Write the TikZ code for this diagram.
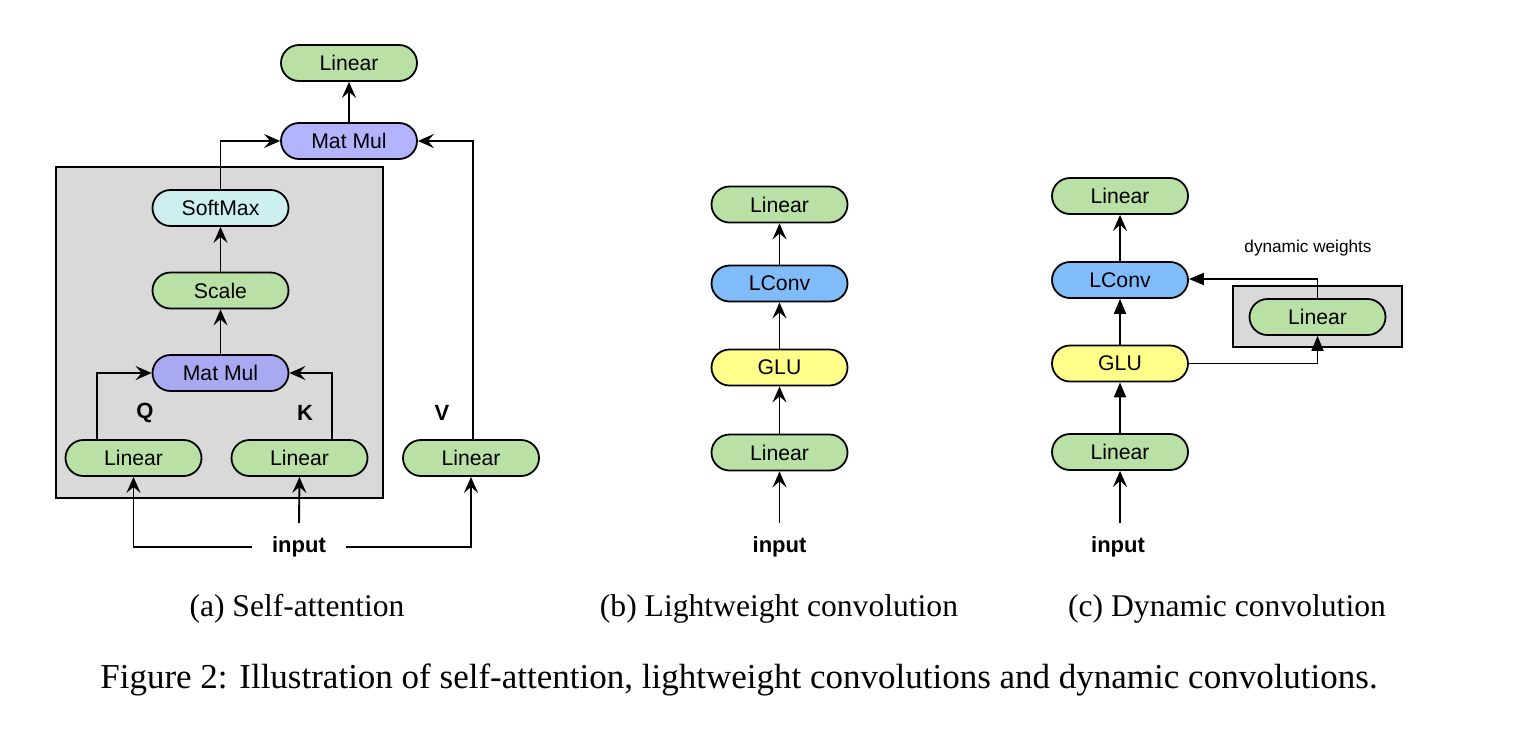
\documentclass[tikz,border=0pt]{standalone}
\usepackage{fontspec}
\setmainfont{Liberation Serif}
\setsansfont{Liberation Sans}
\usetikzlibrary{arrows.meta,calc}
\definecolor{cgreen}{HTML}{B9E0A5}
\definecolor{cpurple}{HTML}{B3B3FF}
\definecolor{cpurpleb}{HTML}{A9A9F2}
\definecolor{ccyan}{HTML}{CDEFEF}
\definecolor{cblue}{HTML}{80BCFA}
\definecolor{cyellow}{HTML}{FFFF8A}
\definecolor{cgray}{HTML}{D9D9D9}
\tikzset{
  blk/.style={draw=black, line width=0.9pt, rounded corners=9pt, minimum width=68pt, minimum height=18pt, inner sep=0pt, font=\sffamily\fontsize{10.6}{12}\selectfont},
  grn/.style={blk, fill=cgreen},
  lbl/.style={font=\sffamily\bfseries\fontsize{11}{13}\selectfont, inner sep=0pt},
  inlbl/.style={font=\sffamily\bfseries\fontsize{11}{13}\selectfont, inner ysep=0pt, inner xsep=10pt},
  arrS/.style={line width=0.95pt, -{Stealth[length=8pt, width=7pt, inset=3pt]}},
  arrT/.style={line width=0.95pt, -{Triangle[length=7.5pt, width=6pt]}},
  grayb/.style={draw=black, line width=0.9pt, fill=cgray},
  capt/.style={font=\fontsize{15.8}{18}\selectfont, inner sep=0pt},
  figcapt/.style={font=\fontsize{17.5}{20}\selectfont, inner sep=0pt}
}
\begin{document}
\begin{tikzpicture}[x=0.5pt,y=-0.5pt]
\useasboundingbox (0,0) rectangle (1518,740);
% ---------- (a) self-attention ----------
\node[grayb, minimum width=163.5pt, minimum height=165.5pt, inner sep=0pt] (boxA) at (219.5,332.5) {};
\node[grn] (linTop) at (349,63) {Linear};
\node[blk, fill=cpurple] (mm2) at (349,141) {Mat Mul};
\node[blk, fill=ccyan] (soft) at (220.5,208) {SoftMax};
\node[grn] (scale) at (220.5,290.5) {Scale};
\node[blk, fill=cpurpleb] (mm1) at (220.5,373) {Mat Mul};
\node[grn] (qlin) at (133.5,458) {Linear};
\node[grn] (klin) at (299.5,458) {Linear};
\node[grn] (vlin) at (471,458) {Linear};
\node[lbl] (qlab) at (145,413) {Q};
\node[lbl] (klab) at (305,413) {K};
\node[lbl] (vlab) at (442,413) {V};
\node[inlbl] (inA) at (299,547) {input};
\coordinate (inAk) at (299,523);
\draw[arrS] (inA.west) -| (qlin.south);
\draw[arrS] (inA.east) -| (vlin.south);
\draw[arrS] (inAk) -- (klin.south);
\draw[arrS] ([xshift=-18.25pt]qlin.north) |- (mm1.west);
\draw[arrS] ([xshift=16.25pt]klin.north) |- (mm1.east);
\draw[arrS] (mm1) -- (scale);
\draw[arrS] (scale) -- (soft);
\draw[arrS] (soft.north) |- (mm2.west);
\draw[arrS] ([xshift=1pt]vlin.north) |- (mm2.east);
\draw[arrS] (mm2) -- (linTop);
% ---------- (b) lightweight convolution ----------
\node[grn] (bTop) at (779.5,204.5) {Linear};
\node[blk, fill=cblue] (bLc) at (779.5,283.5) {LConv};
\node[blk, fill=cyellow] (bGlu) at (779.5,367.5) {GLU};
\node[grn] (bLin) at (779.5,452.5) {Linear};
\node[inlbl] (inB) at (779.5,547) {input};
\coordinate (inBs) at (779.5,523);
\draw[arrS] (inBs) -- (bLin.south);
\draw[arrS] (bLin) -- (bGlu);
\draw[arrS] (bGlu) -- (bLc);
\draw[arrS] (bLc) -- (bTop);
% ---------- (c) dynamic convolution ----------
\node[grn] (cTop) at (1120,196) {Linear};
\node[blk, fill=cblue] (cLc) at (1120,280) {LConv};
\node[blk, fill=cyellow] (cGlu) at (1120,363.5) {GLU};
\node[grn] (cLin) at (1120,452) {Linear};
\node[inlbl] (inC) at (1118,547) {input};
\coordinate (inCs) at (1120,523);
\node[grayb, minimum width=84.5pt, minimum height=30.5pt, inner sep=0pt] (boxC) at (1317.5,316.5) {};
\node[grn] (dLin) at (1317.5,317) {Linear};
\node[font=\sffamily\fontsize{8.6}{10}\selectfont, inner sep=0pt] (dw) at (1308,248) {dynamic weights};
\draw[arrS] (inCs) -- (cLin.south);
\draw[arrT] (cLin) -- (cGlu);
\draw[arrT] (cGlu) -- (cLc);
\draw[arrS] (cLc) -- (cTop);
\draw[arrT] (dLin.north) |- ([yshift=0.5pt]cLc.east);
\draw[arrT] (cGlu.east) -| (dLin.south);
% ---------- captions ----------
\node[capt] (capA) at (297,609) {(a) Self-attention};
\node[capt] (capB) at (779,609) {(b) Lightweight convolution};
\node[capt] (capC) at (1227,609) {(c) Dynamic convolution};
\node[figcapt] (capF) at (739,680) {Figure 2: Illustration of self-attention, lightweight convolutions and dynamic convolutions.};
\end{tikzpicture}
\end{document}
